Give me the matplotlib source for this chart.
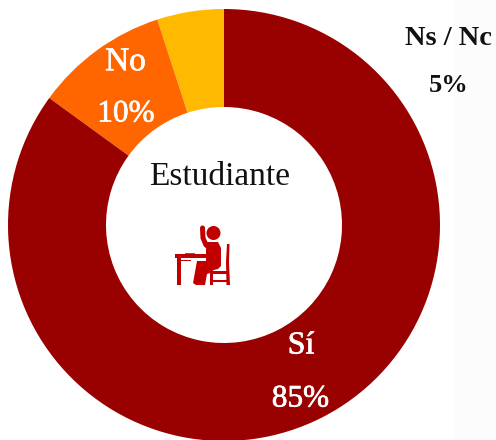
import matplotlib
matplotlib.use('Agg')
import matplotlib.pyplot as plt
import matplotlib.patheffects as pe
from matplotlib.patches import Circle, Rectangle, Polygon

labels = ['Ns / Nc', 'No', 'Sí']
values = [5, 10, 85]
pct_labels = ['5%', '10%', '85%']
colors = ['#FFB900', '#FF6600', '#990000']
center_label = 'Estudiante'

H = 440
serif = ['Liberation Serif', 'DejaVu Serif']
icon_red = '#C00000'


def y_(py):
    # picture pixels count from the top
    return H - py


fig = plt.figure(figsize=(4.96, 4.40), dpi=100)
ax = fig.add_axes([0, 0, 1, 1])

# faint grey strip on the right of the picture
ax.add_patch(Rectangle((453, 0), 43, H, color='#FCFCFC', lw=0, zorder=0))

ax.pie(values, colors=colors, startangle=90, counterclock=True,
       center=(224, y_(225)), radius=216,
       wedgeprops=dict(width=98, linewidth=0), frame=True)
ax.set_xlim(0, 496)
ax.set_ylim(0, H)
ax.set_aspect('auto')
ax.axis('off')

# labels
ax.text(448.5, y_(38), labels[0], color='#111111', fontsize=20.5, family=serif,
        fontweight='bold', ha='center', va='center')
ax.text(448.5, y_(85), pct_labels[0], color='#111111', fontsize=19, family=serif,
        fontweight='bold', ha='center', va='center')

fat = [pe.withStroke(linewidth=0.5, foreground='white')]
ax.text(125.5, y_(62), labels[1], color='white', fontsize=24, family=serif,
        ha='center', va='center', path_effects=fat)
ax.text(126, y_(114), pct_labels[1], color='white', fontsize=22.5, family=serif,
        ha='center', va='center', path_effects=fat)
ax.text(301, y_(346), labels[2], color='white', fontsize=23, family=serif,
        ha='center', va='center', path_effects=fat)
ax.text(300.5, y_(399), pct_labels[2], color='white', fontsize=22.5, family=serif,
        ha='center', va='center', path_effects=fat)
ax.text(220, y_(177), center_label, color='#111111', fontsize=24, family=serif,
        ha='center', va='center')

# student at a desk icon
ax.add_patch(Circle((213.5, y_(233)), 7, color=icon_red, lw=0, zorder=5))
# raised arm and torso
ax.plot([202.5, 203, 206, 214], [y_(228), y_(238), y_(245), y_(250)],
        color=icon_red, lw=3.6, solid_capstyle='round', zorder=5)
ax.add_patch(Polygon([(207, y_(242)), (218, y_(242)), (221, y_(248)), (221, y_(266)),
                      (218, y_(269)), (206, y_(272)), (206, y_(250))],
                     color=icon_red, lw=0, zorder=5))
# thigh and shin
ax.add_patch(Polygon([(197, y_(261)), (212, y_(261)), (213, y_(272)), (207, y_(274)),
                      (205, y_(285)), (196, y_(285)), (193, y_(283))],
                     color=icon_red, lw=0, zorder=5))
# desk
ax.add_patch(Rectangle((175, y_(257.5)), 32, 3.5, color=icon_red, lw=0, zorder=5))
ax.add_patch(Rectangle((177, y_(285)), 4, 27.5, color=icon_red, lw=0, zorder=5))
ax.add_patch(Rectangle((181, y_(261)), 10, 1.5, color=icon_red, lw=0, zorder=5))
ax.add_patch(Rectangle((185, y_(254)), 10, 0.8, color='#4E7A20', lw=0, zorder=6))
# chair
ax.add_patch(Polygon([(227, y_(244)), (229.5, y_(244)), (229, y_(262)), (230, y_(285)),
                      (226.5, y_(285)), (226, y_(262))],
                     color=icon_red, lw=0, zorder=5))
ax.add_patch(Rectangle((209.5, y_(274)), 18, 3.5, color=icon_red, lw=0, zorder=5))
ax.add_patch(Rectangle((209.5, y_(285)), 3, 11, color=icon_red, lw=0, zorder=5))
ax.add_patch(Rectangle((211, y_(281.5)), 16, 2, color=icon_red, lw=0, zorder=5))

fig.savefig('out.png', dpi=100)
